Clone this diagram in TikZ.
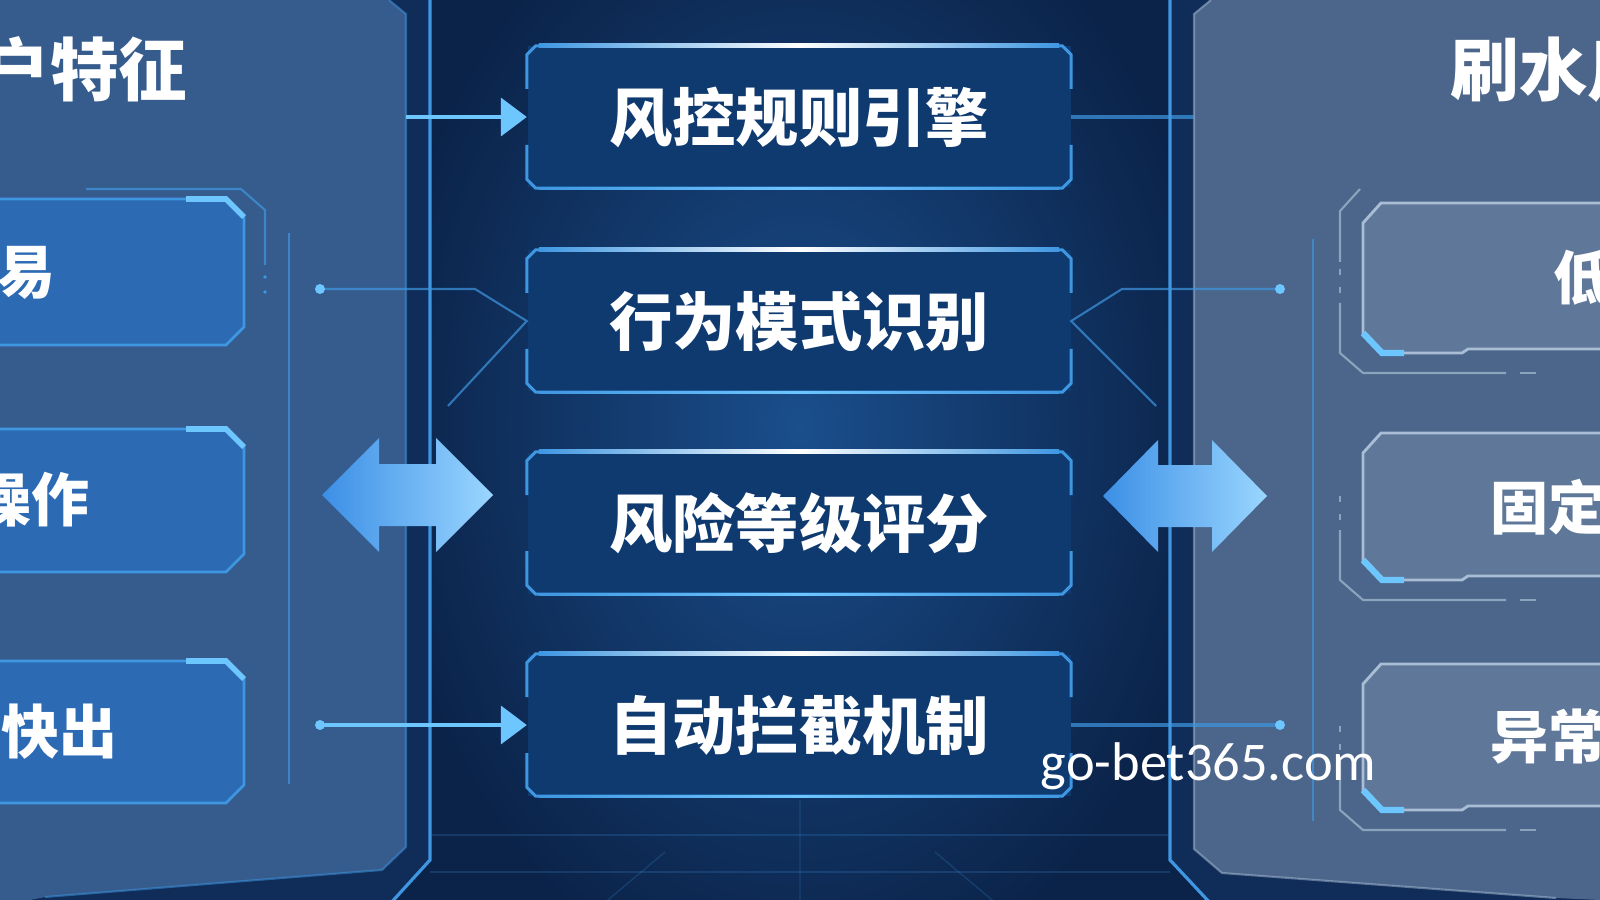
\documentclass[tikz,border=0pt]{standalone}
\usepackage{fontspec}
\newfontfamily\cjk{Noto Sans CJK SC}
\newfontfamily\markfont{Carlito}
\usetikzlibrary{calc,arrows.meta}
\definecolor{navy}{HTML}{0B2349}
\definecolor{navyglow}{HTML}{1A4E8C}
\definecolor{slatepanel}{HTML}{365C8D}
\definecolor{greypanel}{HTML}{4B668A}
\definecolor{framedark}{HTML}{102C58}
\definecolor{edgeblue}{HTML}{3F97E2}
\definecolor{glowblue}{HTML}{6EC6FF}
\definecolor{itemblue}{HTML}{2C6AB4}
\definecolor{itemgrey}{HTML}{5F7899}
\definecolor{greyedge}{HTML}{A9BDD5}
\definecolor{boxnavy}{HTML}{0F3A70}
\definecolor{arrowdeep}{HTML}{3C8FE6}
\definecolor{arrowpale}{HTML}{9AD6FF}

\tikzset{
  cbox/.style={fill=boxnavy, minimum width=54.3mm, minimum height=14.1mm, inner sep=0pt,
    text=white, font={\cjk\bfseries\fontsize{18}{20}\selectfont}},
  cedge/.style={draw=edgeblue, line width=0.85pt},
  itemlabel/.style={text=white, inner sep=0pt, font={\cjk\bfseries\fontsize{16.5}{18}\selectfont}},
  titlelabel/.style={text=white, inner sep=0pt, font={\cjk\bfseries\fontsize{19.5}{21}\selectfont}},
  hairline/.style={draw=edgeblue, line width=0.6pt, opacity=0.7},
  feed/.style={draw=glowblue, line width=1.1pt, -{Triangle[length=2.6mm, width=3.8mm]}},
  dotmark/.style={fill=glowblue},
}

% chamfered frame with gaps at the sides
\newcommand{\cframe}[1]{%
  \draw[cedge] ($(#1.west)+(0,-28)$) -- ($(#1.north west)+(0,9)$) -- ($(#1.north west)+(9,0)$)
    -- ($(#1.north east)+(-9,0)$) -- ($(#1.north east)+(0,9)$) -- ($(#1.east)+(0,-28)$);
  \draw[cedge] ($(#1.west)+(0,28)$) -- ($(#1.south west)+(0,-9)$) -- ($(#1.south west)+(9,0)$)
    -- ($(#1.south east)+(-9,0)$) -- ($(#1.south east)+(0,-9)$) -- ($(#1.east)+(0,28)$);
  \shade[left color=edgeblue, right color=edgeblue, middle color=white]
    ($(#1.north west)+(12,-2)$) rectangle ($(#1.north east)+(-12,2)$);
  \shade[left color=edgeblue, right color=edgeblue, middle color=glowblue]
    ($(#1.south west)+(12,-1.2)$) rectangle ($(#1.south east)+(-12,1.2)$);
}

\begin{document}
\begin{tikzpicture}[x=0.1mm, y=-0.1mm]
\useasboundingbox (0,0) rectangle (1600,900);
\clip (0,0) rectangle (1600,900);
% backdrop
\fill[navy] (0,0) rectangle (1600,900);
\shade[inner color=navyglow, outer color=navy] (380,-150) rectangle (1220,1000);
\draw[edgeblue, opacity=0.2, line width=0.4pt] (430,835) -- (1170,835) (430,872) -- (1170,872);
\draw[edgeblue, opacity=0.2, line width=0.4pt] (800,800) -- (800,900) (665,852) -- (596,910) (935,852) -- (1004,910);

% left panel
\fill[framedark] (0,0) -- (430,0) -- (430,860) -- (389,905) -- (0,905) -- cycle;
\fill[slatepanel] (0,0) -- (389,0) -- (406,14) -- (406,847) -- (382,870) -- (45,897) -- (30,900) -- (0,900) -- cycle;
\draw[edgeblue, opacity=0.5, line width=0.6pt] (389,0) -- (406,14) -- (406,847) -- (382,870) -- (45,897);
\draw[edgeblue, line width=0.9pt] (430,0) -- (430,860) -- (389,905);

% right panel
\fill[framedark] (1170,0) -- (1600,0) -- (1600,905) -- (1212,905) -- (1170,860) -- cycle;
\fill[greypanel] (1211,0) -- (1600,0) -- (1600,900) -- (1556,898) -- (1222,873) -- (1194,849) -- (1194,14) -- cycle;
\draw[greyedge, opacity=0.5, line width=0.6pt] (1211,0) -- (1194,14) -- (1194,849) -- (1222,873) -- (1556,898);
\draw[edgeblue, line width=0.9pt] (1170,0) -- (1170,860) -- (1212,905);

% left items
\foreach \ya/\yb in {199/345, 429/572, 661/803}{
  \filldraw[fill=itemblue, draw=edgeblue, line width=0.8pt] (-10,\ya) -- (226,\ya) -- (244,\ya+18) -- (244,\yb-18) -- (226,\yb) -- (-10,\yb);
  \draw[glowblue, line width=1.6pt] (186,\ya) -- (226,\ya) -- (244,\ya+18);
}
\draw[hairline] (86,189) -- (241,189) -- (265,210) -- (265,265);
\fill[edgeblue] (265,277) circle (1.8) (265,292) circle (1.8);
\draw[hairline] (289,233) -- (289,784);

\node[titlelabel, anchor=east] (ltitle) at (188,70) {户特征};
\node[itemlabel, anchor=east] (ltrade) at (56,273) {易};
\node[itemlabel, anchor=east] (lop) at (90,500) {操作};
\node[itemlabel, anchor=east] (lquick) at (118,732) {快出};

% right items
\foreach \ya/\yb in {203/353, 433/580, 664/810}{
  \filldraw[fill=itemgrey, draw=greyedge, line width=0.8pt] (1610,\ya) -- (1381,\ya) -- (1363,\ya+20) -- (1363,\yb-20) -- (1382,\yb) -- (1462,\yb) -- (1468,\yb-4) -- (1610,\yb-4);
  \draw[glowblue, line width=1.8pt] (1363,\yb-20) -- (1382,\yb) -- (1404,\yb);
  \draw[hairline, draw=greyedge] (1340,\yb-50) -- (1340,\yb) -- (1363,\yb+20) -- (1506,\yb+20);
  \draw[hairline, draw=greyedge] (1520,\yb+20) -- (1536,\yb+20) (1340,\yb-84) -- (1340,\yb-78) (1340,\yb-66) -- (1340,\yb-60);
}
\draw[hairline, draw=greyedge] (1360,189) -- (1340,211) -- (1340,262);
\draw[hairline] (1313,239) -- (1313,821);

\node[titlelabel, anchor=west] (rtitle) at (1450,70) {刷水用};
\node[itemlabel, anchor=west] (rlow) at (1553,278) {低};
\node[itemlabel, anchor=west] (rfixed) at (1490,507) {固定};
\node[itemlabel, anchor=west] (rodd) at (1490,737) {异常};

% centre column
\node[cbox] (rules) at (799,117) {风控规则引擎};
\node[cbox] (pattern) at (799,321) {行为模式识别};
\node[cbox] (scoring) at (799,523) {风险等级评分};
\node[cbox] (blocking) at (799,725) {自动拦截机制};
\foreach \n in {rules,pattern,scoring,blocking}{\cframe{\n}}

% links on the left
\coordinate (lpanelA) at (406,117);
\draw[feed] (lpanelA) -- (rules.west);
\coordinate (ldotB) at (320,289);
\coordinate (lbendB) at (475,289);
\coordinate (ltailB) at (448,406);
\draw[hairline] (ldotB) -- (lbendB) -- (pattern.west) -- (ltailB);
\fill[dotmark] (ldotB) circle (5);
\coordinate (ldotD) at (320,725);
\draw[feed] (ldotD) -- (blocking.west);
\fill[dotmark] (ldotD) circle (5);

% links on the right
\coordinate (rpanelA) at (1194,117);
\draw[hairline, line width=1pt] (rules.east) -- (rpanelA);
\coordinate (rdotB) at (1280,289);
\coordinate (rbendB) at (1122,289);
\coordinate (rtailB) at (1156,406);
\draw[hairline] (rdotB) -- (rbendB) -- (pattern.east) -- (rtailB);
\fill[dotmark] (rdotB) circle (5);
\coordinate (rdotD) at (1280,725);
\draw[hairline, line width=1pt] (blocking.east) -- (rdotD);
\fill[dotmark] (rdotD) circle (5);

% two-way arrows
\shade[left color=arrowdeep, right color=arrowpale] (322,495) -- (379,438) -- (379,464) -- (436,464) -- (436,438) -- (493,495) -- (436,552) -- (436,526) -- (379,526) -- (379,552) -- cycle;
\shade[left color=arrowdeep, right color=arrowpale] (1103,496) -- (1158,440) -- (1158,465) -- (1212,465) -- (1212,440) -- (1267,496) -- (1212,552) -- (1212,527) -- (1158,527) -- (1158,552) -- cycle;

\node[anchor=base west, text=white, inner sep=0pt, font={\markfont\fontsize{15.5}{17}\selectfont}] (mark) at (1040,780) {go-bet365.com};
\end{tikzpicture}
\end{document}
